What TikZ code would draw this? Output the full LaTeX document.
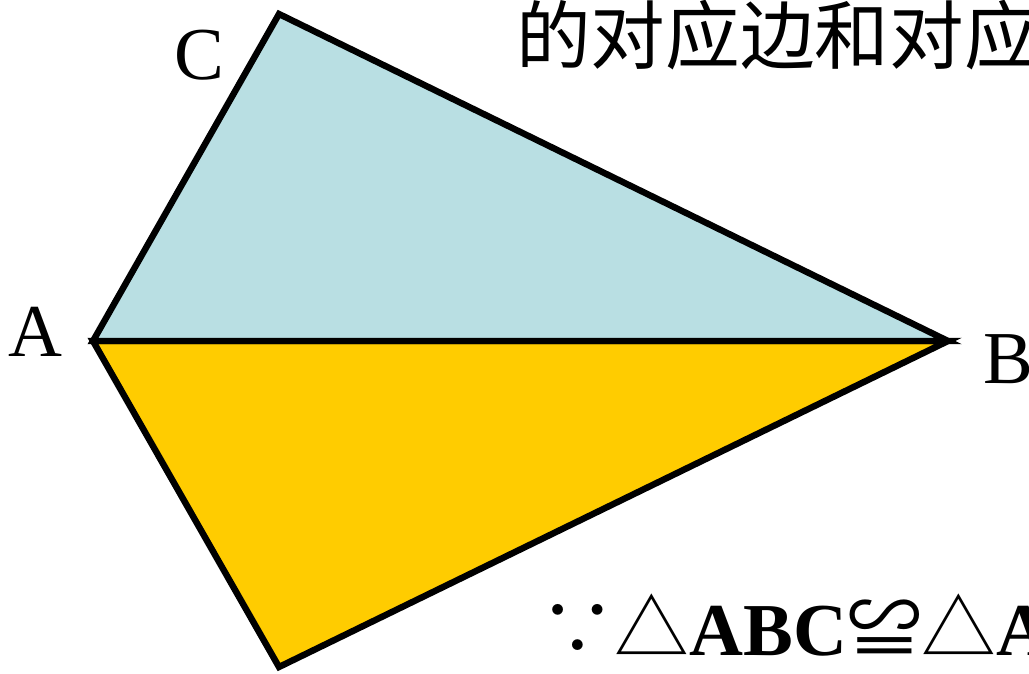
\documentclass[tikz,border=0pt]{standalone}
\usepackage{fontspec}
\setmainfont{Liberation Serif}
\newfontfamily\cjk{Noto Sans CJK SC}
\usepackage{xcolor}
\definecolor{upper}{HTML}{B9DFE3}
\definecolor{lower}{HTML}{FFCC00}
\tikzset{
  side/.style={line width=4.8pt,line join=miter},
  vlabel/.style={font=\fontsize{56}{60}\selectfont,inner sep=0pt,anchor=base}
}
\begin{document}
\begin{tikzpicture}[x=0.75pt,y=-0.75pt]
  \useasboundingbox (0,0) rectangle (1029,674);
  \clip (0,0) rectangle (1029,674);
  % corners
  \coordinate (A) at (93,341);
  \coordinate (B) at (948,341);
  \coordinate (C) at (279,14);
  \coordinate (D) at (279,667);
  \filldraw[side,fill=lower] (A) -- (B) -- (D) -- cycle;
  \filldraw[side,fill=upper] (A) -- (C) -- (B) -- cycle;
  \draw[side] (A) -- (B);
  % labels
  \node[vlabel] (la) at (35,356) {A};
  \node[vlabel] (lb) at (1008,383) {B};
  \node[vlabel] (lc) at (199,80) {C};
  \node[font=\cjk\fontsize{56}{60}\selectfont,inner sep=0pt,anchor=base west] (top) at (516,64) {的对应边和对应};
  \node[font=\fontsize{56}{60}\selectfont\bfseries,inner sep=0pt,anchor=base west] (bottom) at (540,655)
    {{\cjk\mdseries ∵}{\cjk\mdseries △}ABC{\cjk\mdseries ≌}{\cjk\mdseries △}A};
\end{tikzpicture}
\end{document}
